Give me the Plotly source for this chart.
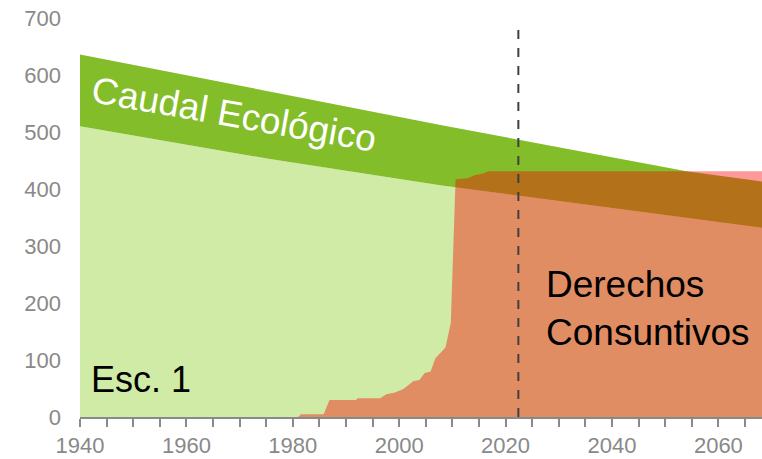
import plotly.graph_objects as go

# Données (hm3 / año)
anios_caudal = [1940, 1976, 2008, 2054, 2070]
caudal_disponible = [510, 452, 406, 350, 330]   # borde superior del verde claro
caudal_total = [636, 571, 512, 431, 411]        # borde superior del caudal ecológico

anios_derechos = [1940, 1981, 1981.5, 1985.8, 1986.9, 1991.9, 1992.2, 1996.4, 1997.6,
                  1999.2, 2000.8, 2002.7, 2003.8, 2004.8, 2005.9, 2006.8, 2008.7,
                  2009.7, 2010.6, 2012.9, 2014.1, 2015.8, 2016.7, 2070]
derechos = [0, 0, 5, 5, 30, 30, 33, 33, 40, 43, 49, 63, 65, 77, 80, 103, 122,
            165, 417, 419, 424, 427, 431, 431]

anio_actual = 2022.4
y_ticks = [0, 100, 200, 300, 400, 500, 600, 700]
x_ticks = [1940, 1960, 1980, 2000, 2020, 2040, 2060]

fuente = "Liberation Sans, Arial, sans-serif"
gris = "#898989"

fig = go.Figure()

# Caudal disponible (verde claro)
fig.add_trace(go.Scatter(x=anios_caudal, y=caudal_disponible, fill="tozeroy",
                         fillcolor="#D0EBA5", line=dict(width=0), mode="lines",
                         hoverinfo="skip"))
# Caudal ecológico (verde oscuro)
fig.add_trace(go.Scatter(x=anios_caudal, y=caudal_total, fill="tonexty",
                         fillcolor="#84BD2A", line=dict(width=0), mode="lines",
                         hoverinfo="skip"))
# Derechos consuntivos (rojo semitransparente)
fig.add_trace(go.Scatter(x=anios_derechos, y=derechos, fill="tozeroy",
                         fillcolor="rgba(250,0,0,0.4)", line=dict(width=0),
                         mode="lines", hoverinfo="skip"))

# Línea del año actual
fig.add_shape(type="line", x0=anio_actual, x1=anio_actual, y0=0, y1=680,
              xref="x", yref="y", line=dict(color="#404040", width=2, dash="dash"))

fig.add_annotation(x=1969, y=530, text="Caudal Ecológico", showarrow=False,
                   textangle=10, font=dict(family=fuente, size=37, color="white"))
fig.add_annotation(x=2027.2, y=191, text="Derechos<br>Consuntivos", showarrow=False,
                   xanchor="left", align="left",
                   font=dict(family=fuente, size=37, color="black"))
fig.add_annotation(x=1941.7, y=65, text="Esc. 1", showarrow=False, xanchor="left",
                   font=dict(family=fuente, size=36, color="black"))

fig.update_layout(
    width=762, height=459,
    margin=dict(l=80, r=0, t=18, b=42),
    showlegend=False,
    plot_bgcolor="white", paper_bgcolor="white",
    font=dict(family=fuente, size=22, color=gris),
)
fig.update_xaxes(range=[1940, 2068.2], tickvals=x_ticks, showgrid=False, zeroline=False,
                 showline=True, linecolor=gris, linewidth=1.5,
                 ticks="outside", ticklen=8, tickcolor=gris, tickwidth=1.5,
                 minor=dict(dtick=5, tick0=1940, ticks="outside", ticklen=8,
                            tickcolor=gris, tickwidth=1.5),
                 tickfont=dict(size=22, color=gris))
fig.update_yaxes(range=[0, 700], tickvals=y_ticks, showgrid=False, zeroline=False,
                 showline=False, ticks="", ticklabelstandoff=18,
                 tickfont=dict(size=22, color=gris))

# quitar el margen por defecto del body
fig.write_html("out.html", config={"displayModeBar": False},
               post_script="document.body.style.margin='0';"
                           "document.body.style.overflow='hidden';")
